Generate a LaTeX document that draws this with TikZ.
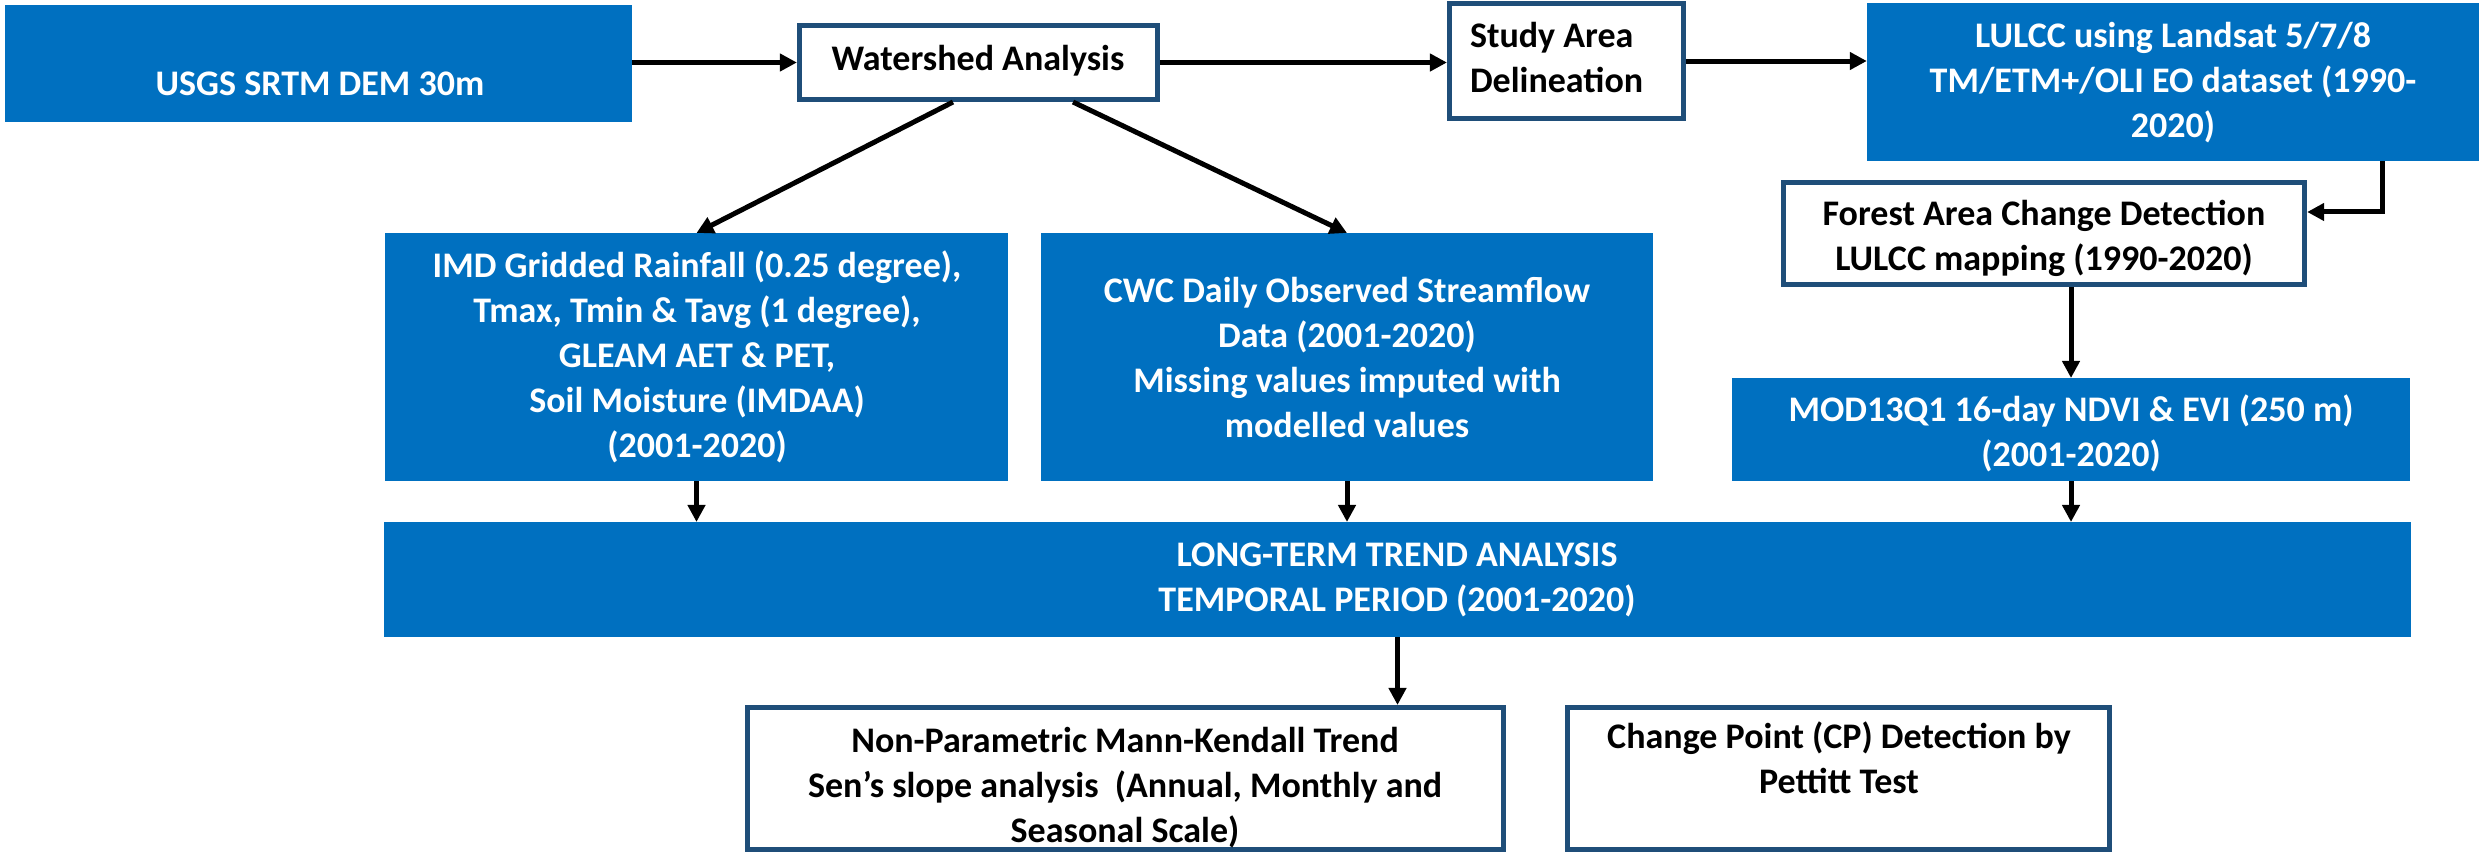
\documentclass[tikz,border=0pt]{standalone}
\usepackage{fontspec}
\setmainfont{Carlito}
\usetikzlibrary{arrows.meta,calc}
\definecolor{fillblue}{HTML}{0070C0}
\definecolor{edgeblue}{HTML}{1F4E79}
\begin{document}
\begin{tikzpicture}[x=0.01cm,y=-0.01cm,
  bluebox/.style={fill=fillblue,draw=none,inner sep=0pt,outer sep=0pt},
  whitebox/.style={fill=white,draw=edgeblue,line width=0.05cm,inner sep=0pt},
  boxtext/.style={font=\fontsize{10.24pt}{12.8pt}\selectfont\bfseries,inner sep=0pt,outer sep=0pt,anchor=base},
  wtext/.style={boxtext,text=white},
  ktext/.style={boxtext,text=black},
  arr/.style={draw=black,line width=0.05cm,-{Triangle[length=0.17cm,width=0.17cm]}}]
\useasboundingbox (0,0) rectangle (2481,854);

% boxes
\node[bluebox,minimum width=6.27cm,minimum height=1.17cm] (usgs) at (318.5,63.5) {};
\node[whitebox,minimum width=3.58cm,minimum height=0.74cm] (ws) at (978.5,62.5) {};
\node[whitebox,minimum width=2.34cm,minimum height=1.15cm] (study) at (1566.5,61) {};
\node[bluebox,minimum width=6.12cm,minimum height=1.58cm] (lulcc) at (2173,82) {};
\node[whitebox,minimum width=5.21cm,minimum height=1.02cm] (fore) at (2044,233.5) {};
\node[bluebox,minimum width=6.23cm,minimum height=2.48cm] (imd) at (696.5,357) {};
\node[bluebox,minimum width=6.12cm,minimum height=2.48cm] (cwc) at (1347,357) {};
\node[bluebox,minimum width=6.78cm,minimum height=1.03cm] (mod) at (2071,429.5) {};
\node[bluebox,minimum width=20.25cm,minimum height=1.15cm] (long) at (1397.5,579.5) {};
\node[whitebox,minimum width=7.56cm,minimum height=1.42cm] (np) at (1125.5,778.5) {};
\node[whitebox,minimum width=5.42cm,minimum height=1.42cm] (cp) at (1838.5,778.5) {};

% texts
\node[wtext] (usgst) at (320,95) {\begin{tabular}[t]{@{}c@{}}USGS SRTM DEM 30m\end{tabular}};
\node[ktext] (wst) at (978,70) {\begin{tabular}[t]{@{}c@{}}Watershed Analysis\end{tabular}};
\node[ktext,anchor=base west] (studyt) at (1470,47) {\begin{tabular}[t]{@{}l@{}}Study Area\\Delineation\end{tabular}};
\node[wtext] (lulcct) at (2173,47) {\begin{tabular}[t]{@{}c@{}}LULCC using Landsat 5/7/8\\TM/ETM+/OLI EO dataset (1990-\\2020)\end{tabular}};
\node[ktext] (foret) at (2044,225) {\begin{tabular}[t]{@{}c@{}}Forest Area Change Detection\\LULCC mapping (1990-2020)\end{tabular}};
\node[wtext] (imdt) at (697,277) {\begin{tabular}[t]{@{}c@{}}IMD Gridded Rainfall (0.25 degree),\\Tmax, Tmin \& Tavg (1 degree),\\GLEAM AET \& PET,\\Soil Moisture (IMDAA)\\(2001-2020)\end{tabular}};
\node[wtext] (cwct) at (1347,302) {\begin{tabular}[t]{@{}c@{}}CWC Daily Observed Streamflow\\Data (2001-2020)\\Missing values imputed with\\modelled values\end{tabular}};
\node[wtext] (modt) at (2071,421) {\begin{tabular}[t]{@{}c@{}}MOD13Q1 16-day NDVI \& EVI (250 m)\\(2001-2020)\end{tabular}};
\node[wtext] (longt) at (1397,566) {\begin{tabular}[t]{@{}c@{}}LONG-TERM TREND ANALYSIS\\TEMPORAL PERIOD (2001-2020)\end{tabular}};
\node[ktext] (npt) at (1125,752) {\begin{tabular}[t]{@{}c@{}}Non-Parametric Mann-Kendall Trend\\Sen’s slope analysis~~(Annual, Monthly and\\Seasonal Scale)\end{tabular}};
\node[ktext] (cpt) at (1839,748) {\begin{tabular}[t]{@{}c@{}}Change Point (CP) Detection by\\Pettitt Test\end{tabular}};

% connectors
\draw[arr] (usgs.east |- ws.west) -- (ws.west);
\draw[arr] (ws.east) -- (ws.east -| study.west);
\draw[arr] (study.east) -- (study.east -| lulcc.west);
\draw[arr] ([xshift=-0.255cm]ws.south) -- (imd.north);
\draw[arr] ([xshift=0.945cm]ws.south) -- (cwc.north);
\draw[arr] ([xshift=2.09cm]lulcc.south) |- ([yshift=0.215cm]fore.east);
\draw[arr] (fore.south -| mod.north) -- (mod.north);
\draw[arr] (imd.south) -- (imd.south |- long.north);
\draw[arr] (cwc.south) -- (cwc.south |- long.north);
\draw[arr] (mod.south) -- (mod.south |- long.north);
\draw[arr] (long.south) -- (long.south |- np.north);
\end{tikzpicture}
\end{document}
